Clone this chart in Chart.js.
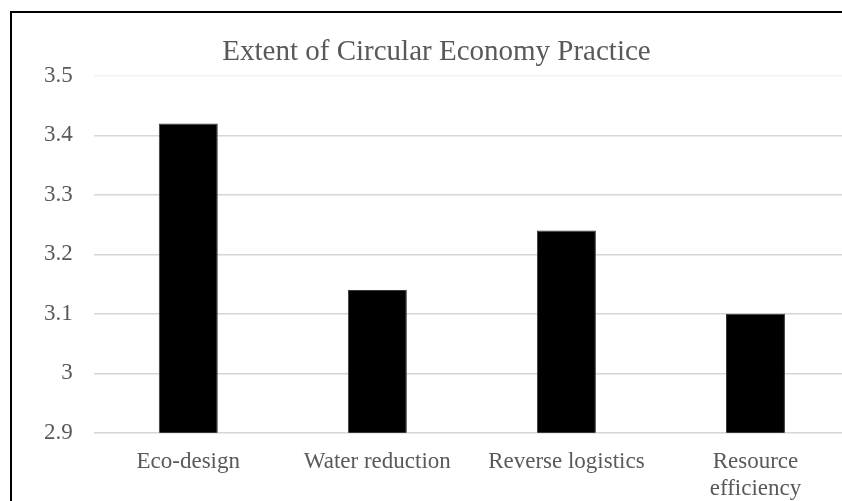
<!DOCTYPE html>
<html>
<head>
<meta charset="utf-8">
<script src="https://cdn.jsdelivr.net/npm/chart.js@4.4.1/dist/chart.umd.min.js"></script>
<style>
  html, body { margin: 0; padding: 0; background: #fff; overflow: hidden; }
  #wrap { position: absolute; left: 0; top: 0; width: 864px; height: 518px; }
  #frame { position: absolute; left: 10px; top: 11px; width: 900px; height: 600px;
           border-left: 2px solid #000; border-top: 2px solid #000; pointer-events: none; }
</style>
</head>
<body>
<div id="wrap"><canvas id="chart"></canvas></div>
<div id="frame"></div>
<script>
  'use strict';

  var categories = ['Eco-design', 'Water reduction', 'Reverse logistics', ['Resource', 'efficiency']];
  var practiceValues = [3.42, 3.14, 3.24, 3.10];
  var yTicks = [2.9, 3.0, 3.1, 3.2, 3.3, 3.4, 3.5];
  var titleText = 'Extent of Circular Economy Practice';

  var serif = "'Liberation Serif', 'Times New Roman', serif";
  var textGrey = '#595959';

  var ctx = document.getElementById('chart');
  var chart = new Chart(ctx, {
    type: 'bar',
    data: {
      labels: categories,
      datasets: [{
        label: 'Extent',
        data: practiceValues,
        backgroundColor: '#000000',
        borderColor: '#3a3a3a',
        borderWidth: 1,
        barPercentage: 0.312,
        categoryPercentage: 1
      }]
    },
    options: {
      responsive: true,
      maintainAspectRatio: false,
      animation: false,
      layout: { padding: { left: 23, right: 14, top: 0, bottom: 0 } },
      plugins: {
        legend: { display: false },
        tooltip: { enabled: false },
        title: {
          display: true,
          text: titleText,
          color: textGrey,
          font: { family: serif, size: 29, weight: 'normal' },
          padding: { top: 35, bottom: 6 }
        }
      },
      scales: {
        x: {
          grid: { display: false, drawTicks: false },
          border: { display: false },
          ticks: {
            color: textGrey,
            font: { family: serif, size: 23 },
            padding: 15,
            maxRotation: 0,
            autoSkip: false
          }
        },
        y: {
          min: 2.9,
          max: 3.5,
          afterBuildTicks: function (scale) {
            scale.ticks = yTicks.map(function (v) { return { value: v }; });
          },
          grid: {
            drawTicks: false,
            lineWidth: 1.5,
            color: function (c) {
              return c.tick && c.tick.value === 3.5 ? '#f3f3f3' : '#d6d6d6';
            }
          },
          border: { display: false },
          ticks: {
            color: textGrey,
            font: { family: serif, size: 23 },
            padding: 21,
            callback: function (v) { return String(Math.round(v * 10) / 10); }
          }
        }
      }
    }
  });
</script>
</body>
</html>
